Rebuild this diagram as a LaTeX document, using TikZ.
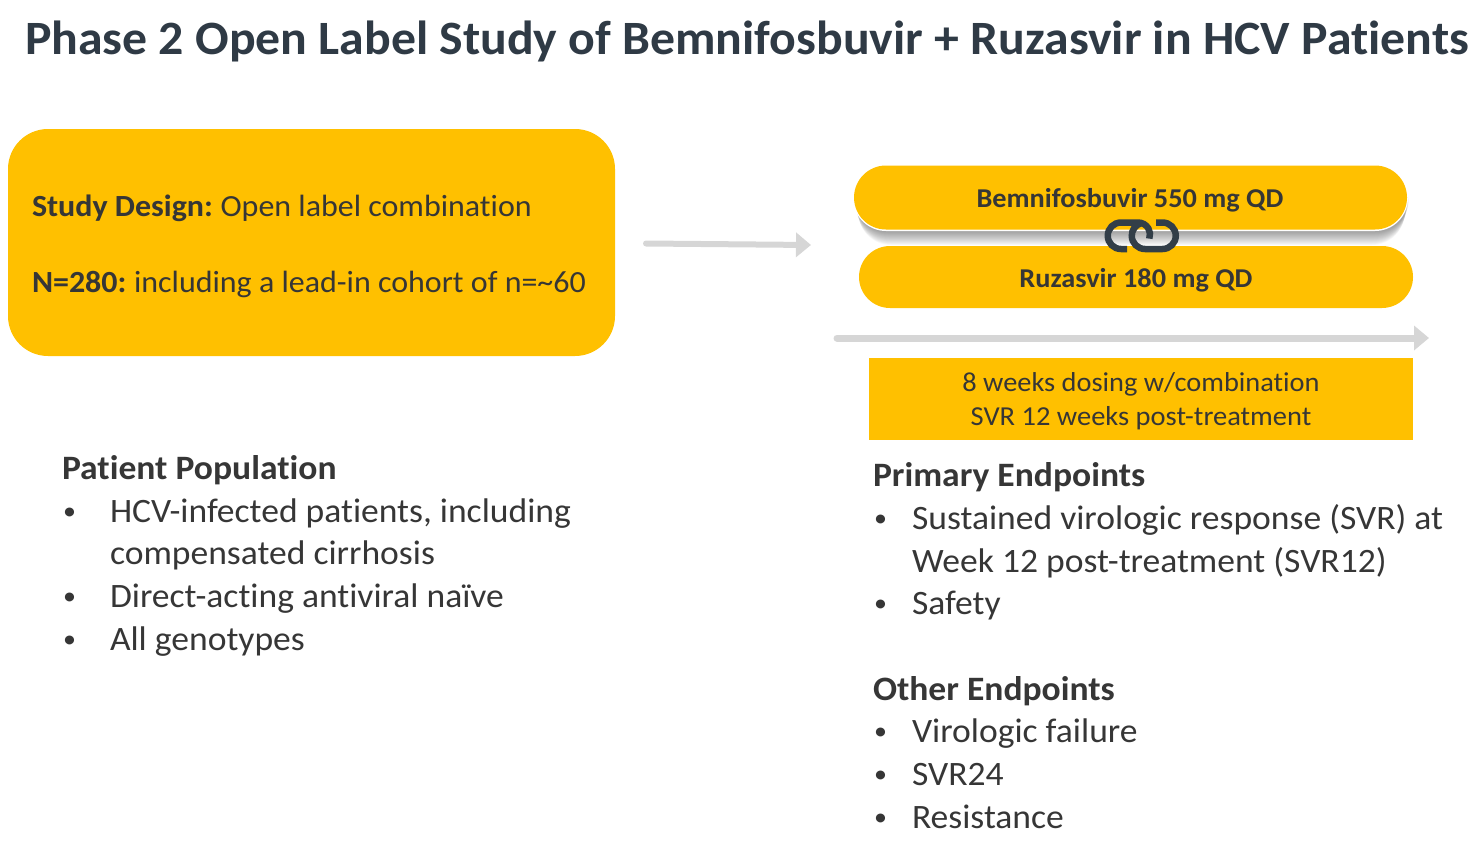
\documentclass[tikz,border=0pt]{standalone}
\usepackage{fontspec}
\setmainfont{Carlito}[FakeStretch=1.04,Ligatures=NoCommon]
\usetikzlibrary{arrows.meta,shapes.misc}
\definecolor{gold}{HTML}{FFC000}
\definecolor{titlec}{HTML}{2F3A45}
\definecolor{body}{HTML}{363636}
\definecolor{arrowc}{HTML}{D6D6D6}
\definecolor{linkc}{HTML}{323E48}
\tikzset{
  txt/.style={anchor=base west,inner sep=0pt,outer sep=0pt,text=body,font=\fontsize{#1}{#1}\selectfont},
  btxt/.style={anchor=base west,inner sep=0pt,outer sep=0pt,text=body,font=\fontsize{#1}{#1}\selectfont\bfseries},
  ctr/.style={anchor=base,inner sep=0pt,outer sep=0pt,text=body,font=\fontsize{#1}{#1}\selectfont},
  bctr/.style={anchor=base,inner sep=0pt,outer sep=0pt,text=body,font=\fontsize{#1}{#1}\selectfont\bfseries},
  bul/.style={anchor=base west,inner sep=0pt,outer sep=0pt,text=body,font=\fontsize{25}{25}\selectfont},
  grayarrow/.style={draw=arrowc,line width=#1,line cap=round,-{Triangle[length=15pt,width=24pt]}},
  linkline/.style={draw=linkc,line width=6.5pt,line cap=butt},
}
\begin{document}
\begin{tikzpicture}[x=1pt,y=-1pt]
\useasboundingbox (0,0) rectangle (1479,840);
\node[btxt=47.85,text=titlec] (title) at (25,55) {Phase 2 Open Label Study of Bemnifosbuvir + Ruzasvir in HCV Patients};
% left box
\fill[gold,rounded corners=40pt] (8,129) rectangle (615,356);
\node[txt=30.75] (design) at (32,216) {\textbf{Study Design:}\hspace{-2pt} Open label combination};
\node[txt=30.75] (nline) at (32,292) {\textbf{N=280:}\hspace{-2pt} including a lead-in cohort of n=\textasciitilde60};
\coordinate (a1s) at (646,243.5);
\coordinate (a1e) at (811,245);
\draw[grayarrow=6pt] (a1s) -- (a1e);
% shadow of pill 1
\foreach \d in {1,2,...,14}{
  \fill[black,opacity=0.032,rounded corners=33pt] (854+\d*0.3,170) rectangle (1409-\d*0.3,231+\d*1.0);
}
\fill[white,rounded corners=33pt] (853,164.5) rectangle (1408,231);
\node[fill=gold,rounded rectangle,minimum width=553pt,minimum height=64pt,inner sep=0pt] (bem) at (1130.5,197.5) {};
\node[fill=gold,rounded rectangle,minimum width=554pt,minimum height=62pt,inner sep=0pt] (ruz) at (1136,277) {};
\node[bctr=27.2] (bemt) at (1130,207) {Bemnifosbuvir 550 mg QD};
\node[bctr=27.2] (ruzt) at (1136,287) {Ruzasvir 180 mg QD};
% link icon
\draw[linkline] (1156,222.5) -- (1162.5,222.5) arc[start angle=90,end angle=-90,radius=13.25pt] -- (1145,249) arc[start angle=270,end angle=110,radius=13.25pt];
\draw[linkline] (1127,249) -- (1121,249) arc[start angle=270,end angle=90,radius=13.25pt] -- (1138,222.5) arc[start angle=90,end angle=-20,radius=12pt];
% time arrow
\coordinate (a2s) at (837,338);
\coordinate (a2e) at (1429,338);
\draw[grayarrow=7pt] (a2s) -- (a2e);
\node[fill=gold,minimum width=544pt,minimum height=82pt,inner sep=0pt] (dose) at (1141,399) {};
\node[ctr=27.3] (dose1) at (1141,391) {8 weeks dosing w/combination};
\node[ctr=27.4] (dose2) at (1141,425) {SVR 12 weeks post-treatment};
% patient population
\node[btxt=34.2] (pp) at (62,479) {Patient Population};
\node[bul] (pb1) at (63,519) {•}; \node[txt=34.2] (p1) at (110,522) {HCV-infected patients, including};
\node[txt=34.2] (p2) at (110,564) {compensated cirrhosis};
\node[bul] (pb2) at (63,604) {•}; \node[txt=34.2] (p3) at (110,607) {Direct-acting antiviral naïve};
\node[bul] (pb3) at (63,647) {•}; \node[txt=34.2] (p4) at (110,650) {All genotypes};
% endpoints
\node[btxt=34.2] (pe) at (873,486) {Primary Endpoints};
\node[bul] (eb1) at (874,526) {•}; \node[txt=34.2] (e1) at (912,529) {Sustained virologic response (SVR) at};
\node[txt=34.2] (e2) at (912,572) {Week 12 post-treatment (SVR12)};
\node[bul] (eb2) at (874,611) {•}; \node[txt=34.2] (e3) at (912,614) {Safety};
\node[btxt=34.2] (oe) at (873,700) {Other Endpoints};
\node[bul] (ob1) at (874,739) {•}; \node[txt=34.2] (o1) at (912,742) {Virologic failure};
\node[bul] (ob2) at (874,782) {•}; \node[txt=34.2] (o2) at (912,785) {SVR24};
\node[bul] (ob3) at (874,825) {•}; \node[txt=34.2] (o3) at (912,828) {Resistance};
\end{tikzpicture}
\end{document}
